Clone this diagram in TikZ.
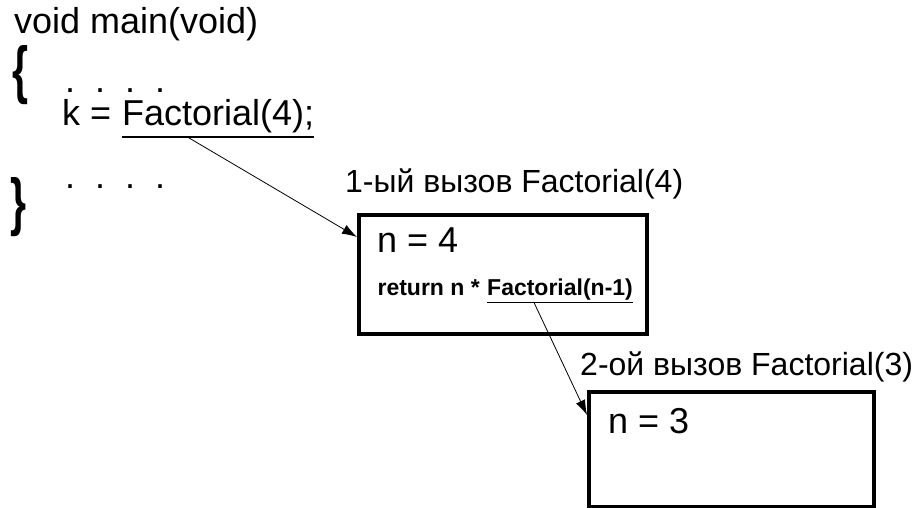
\documentclass[tikz,border=0pt]{standalone}
\usepackage{fontspec}
\setmainfont{Liberation Sans}
\usetikzlibrary{arrows.meta,positioning,calc}

\begin{document}
\begin{tikzpicture}[x=1pt,y=-1pt,
  every node/.style={inner sep=0pt,anchor=base west},
  code/.style={font=\fontsize{36}{40}\selectfont},
  dots/.style={code,text height=6pt,text depth=0pt},
  caption/.style={font=\fontsize{32}{36}\selectfont},
  small/.style={font=\bfseries\fontsize{23}{26}\selectfont},
  brace/.style={anchor=north west,font=\bfseries\fontsize{36}{40}\selectfont},
  callbox/.style={draw,line width=4pt,anchor=north west},
  call/.style={-{Latex[length=15pt,width=10pt]},line width=0.8pt}]
   \useasboundingbox (0,0) rectangle (920,508);
   % main
   \node[code] (head) at (14,34) {void main(void)};
   \node[brace] (open) at (12,45) {\resizebox{16pt}{46pt}{\{}};
   \node[dots] (dots1) at (65,93) {.\hspace{20pt}.\hspace{20pt}.\hspace{20pt}.};
   \node[code] (assign) at (62,125) {k =};
   \node[code] (call4) at (122,125) {Factorial(4);};
   \node[brace] (close) at (10,177) {\resizebox{16pt}{46pt}{\}}};
   \node[dots] (dots2) at (65,188) {.\hspace{20pt}.\hspace{20pt}.\hspace{20pt}.};
   \draw[line width=2pt] ([yshift=-12pt]call4.base west) -- ([yshift=-12pt]call4.base east);
   % first call
   \node[caption] (title1) at (345,192) {1-ый вызов Factorial(4)};
   \node[callbox,minimum width=288pt,minimum height=119pt] (box1) at (357,213) {};
   \node[code] (n4) at (377,252) {n = 4};
   \node[small] (call3) at (487,295) {Factorial(n-1)};
   \node[small,anchor=base east] (ret) at ([xshift=-7pt]call3.base west) {return n *};
   \draw[line width=0.8pt] ([yshift=-7pt]call3.base west) -- ([yshift=-7pt]call3.base east);
   % second call
   \node[caption] (title2) at (580,375) {2-ой вызов Factorial(3)};
   \node[callbox,minimum width=285pt,minimum height=115pt] (box2) at (587,390) {};
   \node[code] (n3) at (608,433) {n = 3};
   % arrows
   \coordinate (from4) at ($([yshift=-12pt]call4.base west)!0.34!([yshift=-12pt]call4.base east)$);
   \coordinate (from3) at ($([yshift=-7pt]call3.base west)!0.32!([yshift=-7pt]call3.base east)$);
   \draw[call] (from4) -- ([yshift=-24pt]box1.north west);
   \draw[call] (from3) -- ([yshift=-25pt]box2.north west);
\end{tikzpicture}
\end{document}
